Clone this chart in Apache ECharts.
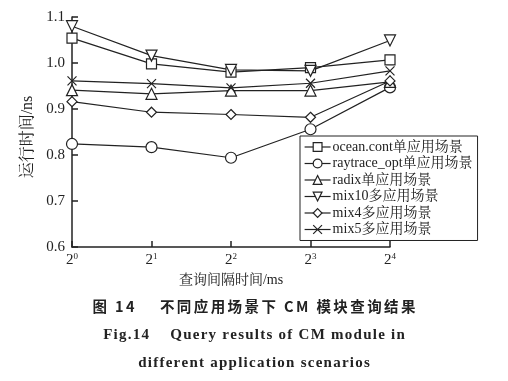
<!DOCTYPE html>
<html><head><meta charset="utf-8">
<script src="https://cdn.jsdelivr.net/npm/echarts@6/dist/echarts.min.js"></script>
<style>html,body{margin:0;padding:0;background:#fff}#c{width:508px;height:381px}</style>
</head><body><div id="c"></div>
<script>
var categories = ['0','1','2','3','4'];
var seriesNames = ['ocean.cont单应用场景','raytrace_opt单应用场景','radix单应用场景','mix10多应用场景','mix4多应用场景','mix5多应用场景'];
var oceanCont = [1.054, 0.998, 0.980, 0.990, 1.007];
var raytraceOpt = [0.824, 0.817, 0.794, 0.856, 0.947];
var radix = [0.941, 0.933, 0.940, 0.940, 0.959];
var mix10 = [1.080, 1.016, 0.985, 0.983, 1.049];
var mix4 = [0.916, 0.893, 0.888, 0.882, 0.961];
var mix5 = [0.961, 0.955, 0.946, 0.956, 0.983];
var yTicks = [0.6, 0.7, 0.8, 0.9, 1.0, 1.1];
var caption1 = '图 14    不同应用场景下 CM 模块查询结果';
var caption2 = 'Fig.14    Query results of CM module in';
var caption3 = 'different application scenarios';

var serif = '"Liberation Serif","Times New Roman","Noto Serif CJK SC","Noto Sans CJK SC",serif';
var xPath = 'path://M0,0L10,10M10,0L0,10';
var symbols = ['rect','circle','triangle','triangle','diamond',xPath];
var rotates = [0,0,0,180,0,0];
var sizes = [10,11,11,11,10,9];
var data = [oceanCont, raytraceOpt, radix, mix10, mix4, mix5];

function spaced(s, sp){ return s.split('').join(sp); }

var series = data.map(function(d,i){
  return {
    name: seriesNames[i], type:'line', data:d,
    symbol: symbols[i], symbolSize: sizes[i], symbolRotate: rotates[i], showAllSymbol:true,
    lineStyle:{color:'#222', width:1.2},
    itemStyle:{color:'#fff', borderColor:'#222', borderWidth:1.2},
    z: 3
  };
});

var chart = echarts.init(document.getElementById('c'));
chart.setOption({
  animation:false,
  backgroundColor:'#fff',
  grid:{left:72, right:118, top:17, bottom:134},
  legend:{
    orient:'vertical', left:300, top:136,
    data: seriesNames,
    itemWidth:26, itemHeight:11, itemGap:2.5,
    itemStyle:{color:'#fff', borderColor:'#222', borderWidth:1.2},
    lineStyle:{color:'#222', width:1.2},
    borderColor:'#222', borderWidth:1, padding:[4,5,4,4],
    textStyle:{fontFamily:serif, fontSize:14, color:'#222', padding:[0,0,0,-3]},
    backgroundColor:'#fff'
  },
  xAxis:{
    type:'category', data:categories, boundaryGap:false,
    name:'查询间隔时间/ms', nameLocation:'middle', nameGap:18,
    nameTextStyle:{fontFamily:serif, fontSize:14, color:'#222'},
    axisLine:{lineStyle:{color:'#222', width:1.5}},
    axisTick:{inside:true, length:6, lineStyle:{color:'#222', width:1.5}},
    axisLabel:{margin:5, color:'#222',
      formatter:function(v){return '{b|2}{s|'+v+'}';},
      rich:{b:{fontFamily:serif, fontSize:15, color:'#222'}, s:{fontFamily:serif, fontSize:9, color:'#222', verticalAlign:'top', padding:[0,0,8,0]}}
    },
    splitLine:{show:false}
  },
  yAxis:{
    type:'value', min:0.6, max:1.1, interval:0.1,
    name:'运行时间/ns', nameLocation:'middle', nameGap:34, nameRotate:90,
    nameTextStyle:{fontFamily:serif, fontSize:16, color:'#222', padding:[0,0,0,-10]},
    axisLine:{show:true, lineStyle:{color:'#222', width:1.5}},
    axisTick:{show:true, inside:true, length:6, lineStyle:{color:'#222', width:1.5}},
    axisLabel:{fontFamily:serif, fontSize:15, color:'#222', margin:7,
      formatter:function(v){return v.toFixed(1);}},
    splitLine:{show:false}
  },
  graphic:[
    {type:'text', left:'center', top:299, style:{text:spaced(caption1,'\u2006'), font:'bold 14.5px "Noto Sans CJK SC", sans-serif', fill:'#222'}},
    {type:'text', left:'center', top:328, style:{text:spaced(caption2,'\u200A'), font:'bold 15px '+serif, fill:'#222'}},
    {type:'text', left:'center', top:356, style:{text:spaced(caption3,'\u200A'), font:'bold 15px '+serif, fill:'#222'}}
  ],
  series: series
});
</script></body></html>
